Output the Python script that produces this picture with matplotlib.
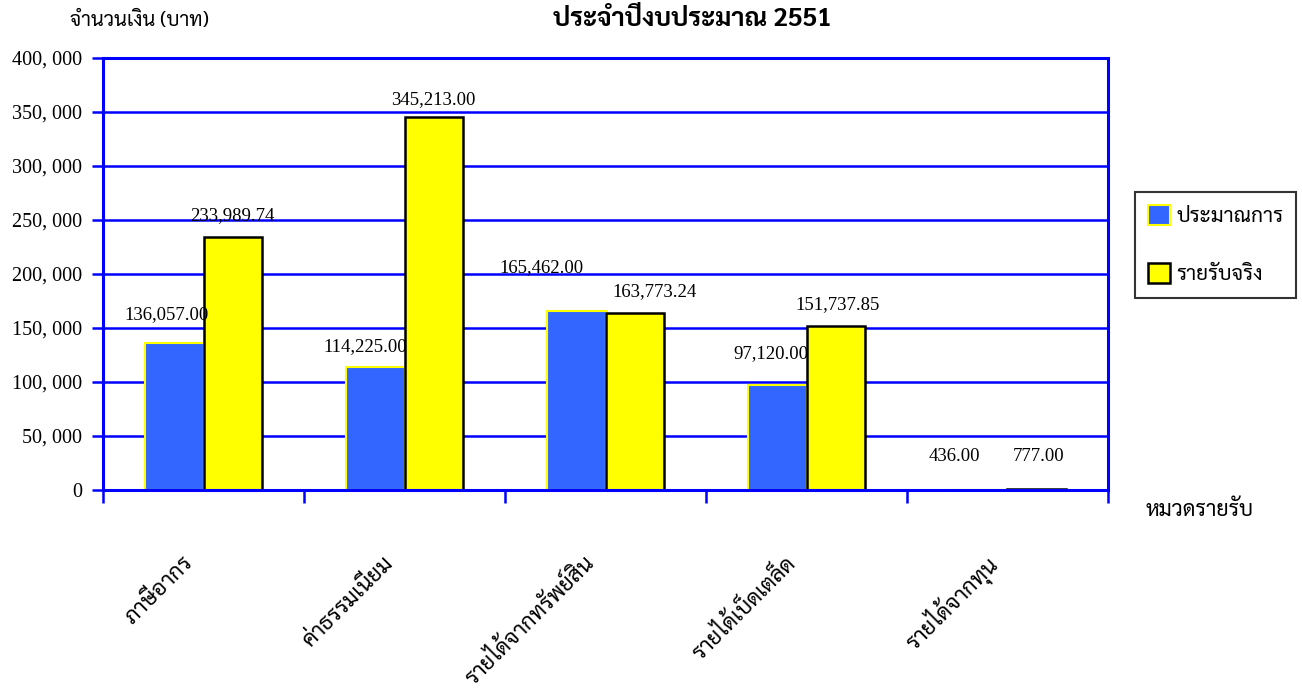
import matplotlib
matplotlib.use("Agg")
import matplotlib.pyplot as plt
from matplotlib import font_manager as fm
from matplotlib.patches import Patch
from matplotlib.transforms import ScaledTranslation
import numpy as np

# ---- data ----
categories = ["ภาษีอากร", "ค่าธรรมเนียม", "รายได้จากทรัพย์สิน", "รายได้เบ็ดเตล็ด", "รายได้จากทุน"]
estimate = [136057.00, 114225.00, 165462.00, 97120.00, 436.00]
actual = [233989.74, 345213.00, 163773.24, 151737.85, 777.00]
series_names = ["ประมาณการ", "รายรับจริง"]
yticks = [0, 50000, 100000, 150000, 200000, 250000, 300000, 350000, 400000]
title = "ประจำปีงบประมาณ 2551"
ylabel = "จำนวนเงิน (บาท)"
xlabel = "หมวดรายรับ"


def find_thai_font():
    try:
        from fontTools.ttLib import TTFont
    except Exception:
        return None
    found = []
    for f in fm.fontManager.ttflist:
        try:
            tt = TTFont(f.fname, fontNumber=0, lazy=True)
            cmap = tt.getBestCmap()
            if cmap and 0x0E01 in cmap and 0x0E32 in cmap and 0x0E48 in cmap:
                found.append(f.name)
        except Exception:
            pass
    if not found:
        return None
    prefs = ["Norasi", "TH Sarabun", "Sarabun", "Tlwg Typo", "Kinnari", "Garuda", "Loma", "Noto Serif Thai", "Noto Sans Thai"]
    for p in prefs:
        for n in found:
            if p.lower() in n.lower():
                return n
    return found[0]


thai = find_thai_font()
serif = "Liberation Serif"
fam = ([thai] if thai else []) + [serif, "DejaVu Sans"]
numfam = [serif, "DejaVu Sans"]

plt.rcParams['font.family'] = fam

BLUE_LINE = "#0000FF"
fig = plt.figure(figsize=(13.02, 6.88), dpi=100)
ax = fig.add_axes([103 / 1302, 1 - 490 / 688, (1108 - 103) / 1302, (490 - 58) / 688])

x = np.arange(len(categories))
w = 0.29
ax.bar(x - w / 2, estimate, w, color="#3366FF", edgecolor="#FFFF00", linewidth=1.5, zorder=3)
ax.bar(x + w / 2, actual, w, color="#FFFF00", edgecolor="#000000", linewidth=1.8, zorder=3)

ax.set_xlim(-0.5, len(categories) - 0.5)
ax.set_ylim(0, 400000)
ax.set_yticks(yticks)
ax.set_yticklabels([f"{v:,}".replace(",", ", ") for v in yticks], family=numfam, fontsize=14.5)
ax.yaxis.grid(True, color=BLUE_LINE, linewidth=1.8, zorder=0)
ax.set_axisbelow(True)
ax.tick_params(axis="y", colors=BLUE_LINE, length=8, width=1.8, pad=7, labelcolor="black")

# category boundary ticks
ax.set_xticks(np.arange(-0.5, len(categories), 1.0))
ax.set_xticklabels([])
ax.tick_params(axis="x", colors=BLUE_LINE, length=9, width=1.8, direction="out")

for s in ax.spines.values():
    s.set_color(BLUE_LINE)
    s.set_linewidth(2.2)
    s.set_zorder(5)

# category labels
trans = ax.get_xaxis_transform() + ScaledTranslation(-14 / 100, -70 / 100, fig.dpi_scale_trans)
for i, c in enumerate(categories):
    ax.text(i, 0, c, transform=trans, rotation=45, rotation_mode="anchor",
            ha="right", va="center", fontsize=16, family=fam)

# value labels
est_off = [(-8, 28), (-10, 20), (-35, 44), (-6, 32), (-24, 33)]
act_off = [(0, 22), (0, 18), (20, 22), (2, 22), (2, 33)]
for i, (v, (dx, dy)) in enumerate(zip(estimate, est_off)):
    ax.annotate(f"{v:,.2f}", (x[i] - w / 2, v), xytext=(dx / 1.389, dy / 1.389),
                textcoords="offset points", ha="center", va="center", fontsize=13.5,
                family=numfam)
for i, (v, (dx, dy)) in enumerate(zip(actual, act_off)):
    ax.annotate(f"{v:,.2f}", (x[i] + w / 2, v), xytext=(dx / 1.389, dy / 1.389),
                textcoords="offset points", ha="center", va="center", fontsize=13.5,
                family=numfam)

# titles
fig.text(692 / 1302, 1 - 20 / 688, title, ha="center", va="center", fontsize=18.5,
         fontweight="bold", family=fam)
fig.text(139 / 1302, 1 - 20 / 688, ylabel, ha="center", va="center", fontsize=14.5, family=fam)
fig.text(1200 / 1302, 1 - 510 / 688, xlabel, ha="center", va="center", fontsize=15.5, family=fam)

# legend
handles = [Patch(facecolor="#3366FF", edgecolor="#FFFF00", linewidth=1.5),
           Patch(facecolor="#FFFF00", edgecolor="#000000", linewidth=1.8)]
leg = fig.legend(handles, series_names, loc="upper left",
                 bbox_to_anchor=(1135 / 1302, 1 - 192 / 688), frameon=True, fancybox=False,
                 borderaxespad=0, handlelength=1.1, handleheight=1.1, handletextpad=0.3,
                 labelspacing=1.75, borderpad=0.6, prop={"family": fam, "size": 15})
leg.get_frame().set_edgecolor("black")
leg.get_frame().set_linewidth(1.5)

fig.savefig("out.png", dpi=100)
